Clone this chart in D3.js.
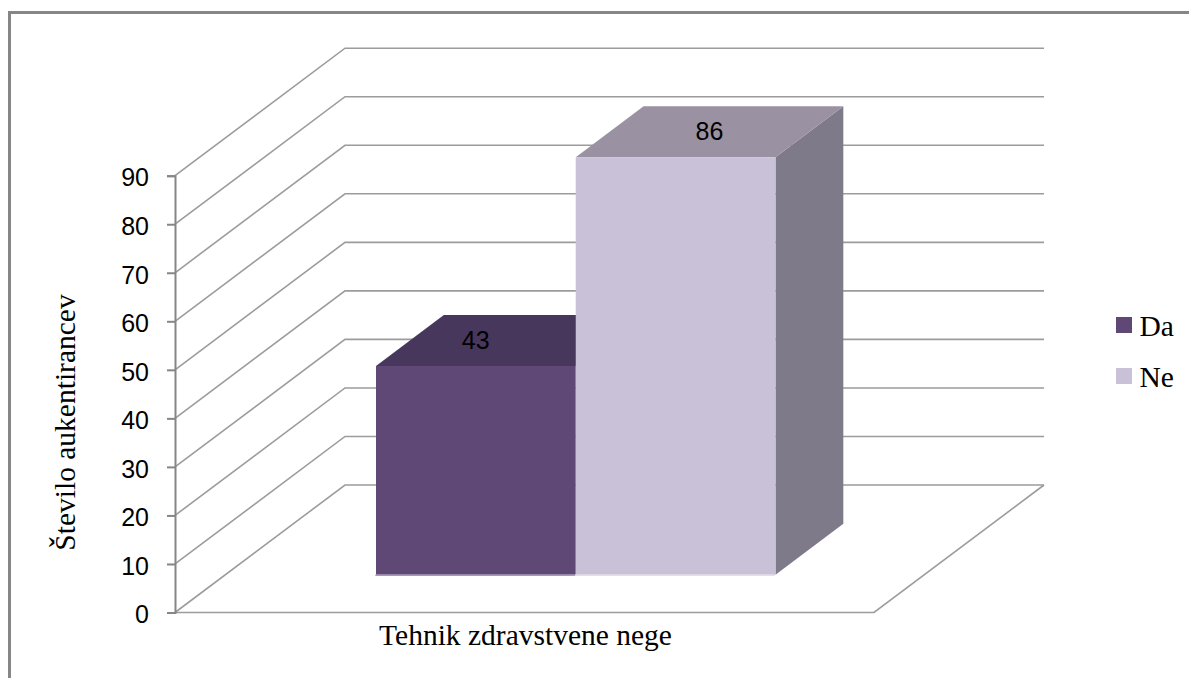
<!DOCTYPE html>
<html>
<head>
<meta charset="utf-8">
<script src="https://d3js.org/d3.v7.min.js"></script>
<style>
  html, body {margin: 0; background: #fff;}
  svg {display: block;}
  .num {font-family: "Liberation Sans", Arial, sans-serif; font-size: 25px; fill: #000;}
  .ser {font-family: "Liberation Serif", "Times New Roman", serif; font-size: 29.5px; fill: #000;}
  .grid {fill: none; stroke: #9c9c9c; stroke-width: 1.6;}
</style>
</head>
<body>
<svg id="chart" width="1189" height="678"></svg>
<script>
var series = ["Da", "Ne"];
var values = [43, 86];
var category = "Tehnik zdravstvene nege";
var yTitle = "Število aukentirancev";
var yTicks = [0, 10, 20, 30, 40, 50, 60, 70, 80, 90];
var frontColors = ["#5f4876", "#c8c1d7"];
var topColors = ["#48375c", "#9a92a3"];
var sideColors = ["#3f3050", "#7e7a89"];
var footColors = ["#a899ba", "#e2deea"];

// floor: x runs along the front edge, depth runs from front wall to back wall
var x = d3.scaleLinear().domain([0, 699]).range([175, 874]);
var y = d3.scaleLinear().domain([0, 90]).range([612.5, 175.7]);
var depth = {dx: 170, dy: -127.5};
var bar = d3.scaleBand().domain(series).range([150.5, 550]);
var barDepth = [0.297, 0.696];

var svg = d3.select("#chart");

function pt(px, v, d) {
  return [x(px) + d * depth.dx, y(v) + d * depth.dy];
}
function poly(points) {
  return "M" + points.map(function(p) {return p.join(",");}).join("L") + "Z";
}

// frame, open on the right
svg.append("path")
  .attr("d", "M1189,12.5H9.5V678")
  .attr("fill", "none")
  .attr("stroke", "#868686")
  .attr("stroke-width", 3);

// walls and floor
var grid = svg.append("g");
grid.selectAll("path.grid")
  .data(yTicks)
  .enter().append("path")
  .attr("class", "grid")
  .attr("d", function(d) {
    var a = pt(0, d, 0), b = pt(0, d, 1), c = pt(699, d, 1);
    return "M" + a + "L" + b + "L" + c;
  });
grid.append("path")
  .attr("class", "grid")
  .attr("d", "M" + pt(0, 0, 0) + "L" + pt(699, 0, 0) + "L" + pt(699, 0, 1));

// y axis
var yAxis = d3.axisLeft(y).tickValues(yTicks).tickSize(8).tickPadding(18);
var axisG = svg.append("g").attr("transform", "translate(175,0)").call(yAxis);
axisG.attr("font-family", null).attr("font-size", null);
axisG.selectAll("path, line").attr("stroke", "#868686").attr("stroke-width", 2);
axisG.selectAll("text").attr("class", "num").attr("dy", "0.41em");

// bars
series.forEach(function(s, i) {
  var l = bar(s), r = l + bar.bandwidth(), v = values[i];
  var d0 = barDepth[0], d1 = barDepth[1];
  var g = svg.append("g");
  g.append("path").attr("fill", sideColors[i])
    .attr("d", poly([pt(r, 0, d0), pt(r, 0, d1), pt(r, v, d1), pt(r, v, d0)]));
  g.append("path").attr("fill", topColors[i])
    .attr("d", poly([pt(l, v, d0), pt(r, v, d0), pt(r, v, d1), pt(l, v, d1)]));
  g.append("path").attr("fill", frontColors[i])
    .attr("d", poly([pt(l, 0, d0), pt(r, 0, d0), pt(r, v, d0), pt(l, v, d0)]));
  // thin light edge along the foot of each bar
  g.append("path").attr("stroke", footColors[i]).attr("stroke-width", 1.5)
    .attr("d", "M" + pt(l, 0, d0 - 0.004) + "L" + pt(r, 0, d0 - 0.004));
  // the Da label sits left of its top face because the Ne bar hides the rest
  var lab = pt((l + r) / 2, v, (d0 + d1) / 2);
  g.append("text").attr("class", "num")
    .attr("x", lab[0] - (i == 0 ? 34 : 0)).attr("y", lab[1] + 8)
    .attr("text-anchor", "middle")
    .text(v);
});

// axis titles
svg.append("text").attr("class", "ser")
  .attr("x", 525.5).attr("y", 645)
  .attr("text-anchor", "middle")
  .text(category);
svg.append("text").attr("class", "ser")
  .attr("transform", "translate(75,422.5) rotate(-90)")
  .attr("text-anchor", "middle")
  .text(yTitle);

// legend
var legend = svg.append("g").selectAll("g")
  .data(series)
  .enter().append("g")
  .attr("transform", function(d, i) {return "translate(1116," + (317 + i * 51) + ")";});
legend.append("rect")
  .attr("width", 16).attr("height", 16)
  .attr("fill", function(d, i) {return frontColors[i];});
legend.append("text").attr("class", "ser")
  .attr("x", 23.5).attr("y", 18.5)
  .text(function(d) {return d;});
</script>
</body>
</html>
